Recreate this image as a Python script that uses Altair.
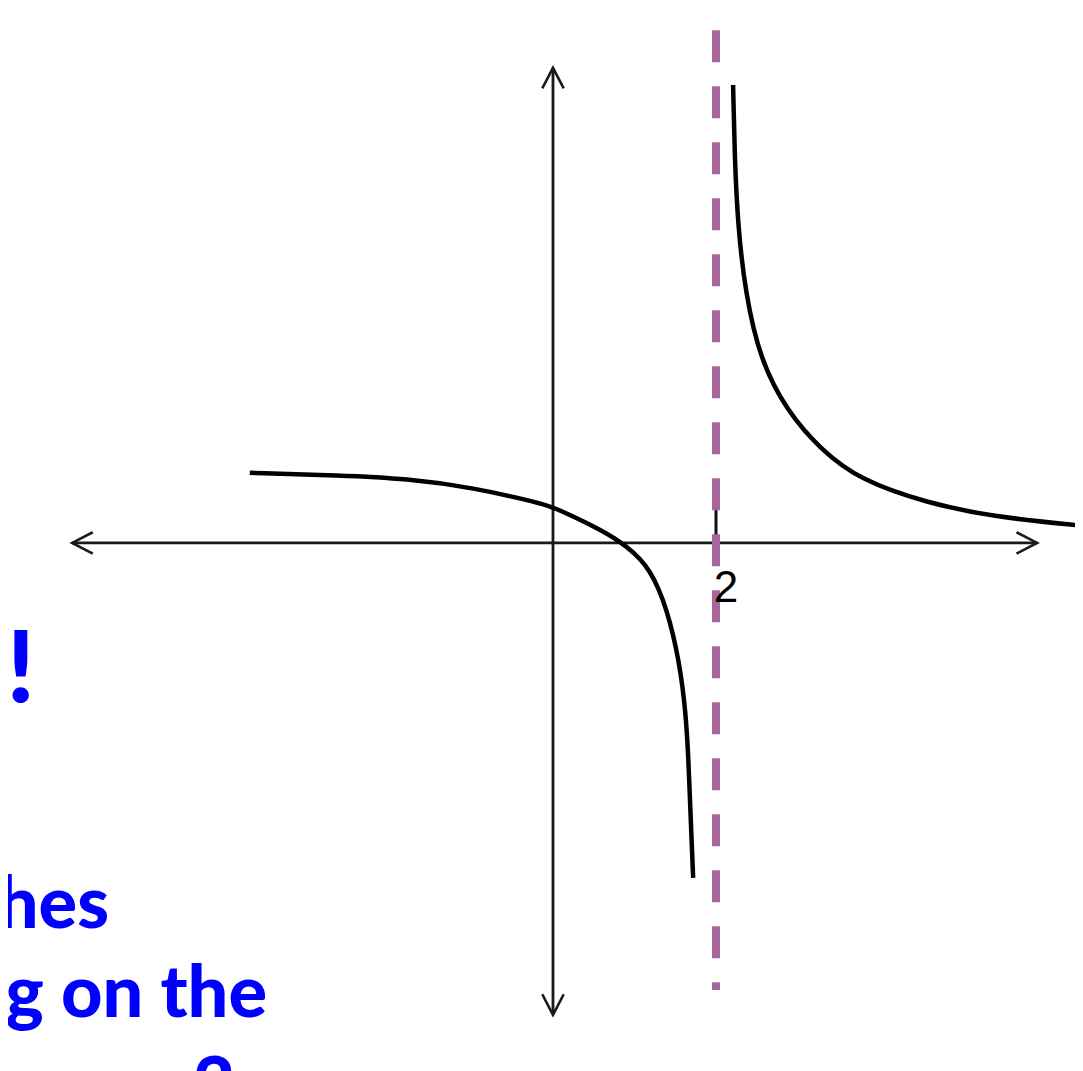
import altair as alt
import pandas as pd

# ---- data (graph units: 1 unit = one grid step) ----
left_x = [-3.72, -2.61, -1.79, -0.98, -0.16, 0.0, 0.45, 0.82, 1.15, 1.35, 1.52, 1.62, 1.66, 1.69, 1.72]
left_y = [0.86, 0.83, 0.79, 0.68, 0.49, 0.44, 0.23, 0.03, -0.25, -0.66, -1.28, -1.96, -2.58, -3.40, -4.11]
right_x = [2.21, 2.23, 2.27, 2.36, 2.54, 2.87, 3.28, 3.77, 4.59, 5.40, 6.50]
right_y = [5.62, 4.70, 3.88, 3.07, 2.25, 1.62, 1.15, 0.77, 0.49, 0.32, 0.21]
asymptote_x = [2.0]
tick_values = [2.0]
tick_labels = ["2"]
slide_lines = ["T!", "hes", "g on the", "= 2"]

# axis extents (graph units)
X_AXIS = (-5.90, 5.94)
Y_AXIS = (-5.79, 5.83)
ASYM_Y = (6.29, -5.485)

W, H = 1067, 1063
xs = alt.Scale(domain=[-6.687, 6.405], nice=False, zero=False)
ys = alt.Scale(domain=[-6.479, 6.564], nice=False, zero=False)

curve = pd.DataFrame(
    {"x": left_x + right_x,
     "y": left_y + right_y,
     "branch": ["left"] * len(left_x) + ["right"] * len(right_x)}
)

axes_df = pd.DataFrame({
    "x": [X_AXIS[0], 0.0], "x2": [X_AXIS[1], 0.0],
    "y": [0.0, Y_AXIS[0]], "y2": [0.0, Y_AXIS[1]],
})
axes = alt.Chart(axes_df).mark_rule(color="#1a1a1a", strokeWidth=2.8).encode(
    x=alt.X("x:Q", scale=xs, axis=None), x2="x2:Q",
    y=alt.Y("y:Q", scale=ys, axis=None), y2="y2:Q",
)

arrows_df = pd.DataFrame({
    "x": [X_AXIS[0], X_AXIS[1], 0.0, 0.0],
    "y": [0.0, 0.0, Y_AXIS[1], Y_AXIS[0]],
    "angle": [180, 0, 270, 90],
})
arrows = alt.Chart(arrows_df).mark_point(
    shape="M -1 -0.52 L 0 0 L -1 0.52", filled=False, color="#1a1a1a",
    strokeWidth=2.6, size=1700, opacity=1,
).encode(
    x=alt.X("x:Q", scale=xs, axis=None),
    y=alt.Y("y:Q", scale=ys, axis=None),
    angle=alt.Angle("angle:Q", scale=None),
)

tick_df = pd.DataFrame({"x": tick_values, "y": [0.0], "y2": [0.405], "label": tick_labels})
tick = alt.Chart(tick_df).mark_rule(color="#111111", strokeWidth=3).encode(
    x=alt.X("x:Q", scale=xs, axis=None),
    y=alt.Y("y:Q", scale=ys, axis=None), y2="y2:Q",
)
tick_label = alt.Chart(tick_df).mark_text(
    font="Liberation Sans", fontSize=44, color="#000000", align="center", baseline="alphabetic",
).encode(text="label:N", x=alt.value(718), y=alt.value(594))

lines = alt.Chart(curve).mark_line(
    color="#000000", strokeWidth=4.5, interpolate="basis", strokeCap="butt",
).encode(
    x=alt.X("x:Q", scale=xs, axis=None),
    y=alt.Y("y:Q", scale=ys, axis=None),
    detail="branch:N",
)

asym_df = pd.DataFrame({"x": asymptote_x, "y": [ASYM_Y[0]], "y2": [ASYM_Y[1]]})
asym = alt.Chart(asym_df).mark_rule(
    color="#a5679b", strokeWidth=8, strokeDash=[32, 24], strokeCap="butt",
).encode(
    x=alt.X("x:Q", scale=xs, axis=None),
    y=alt.Y("y:Q", scale=ys, axis=None), y2="y2:Q",
)

def slide_text(txt, xr, yb, size):
    return alt.Chart(pd.DataFrame({"t": [txt]})).mark_text(
        font="Lato", fontWeight=900, fontSize=size, color="#0000ff",
        align="right", baseline="alphabetic",
    ).encode(text="t:N", x=alt.value(xr), y=alt.value(yb))

texts = [
    slide_text(slide_lines[0], 27, 694, 100),
    slide_text(slide_lines[1], 101, 920, 72),
    slide_text(slide_lines[2], 259, 1009, 72),
    slide_text(slide_lines[3], 227, 1101, 72),
]

chart = alt.layer(axes, arrows, tick, lines, asym, tick_label, *texts).properties(
    width=W, height=H, padding=0, background="white",
    autosize=alt.AutoSizeParams(type="none"),
).configure_view(stroke=None)

chart.save("out.html", embed_options={"renderer": "svg", "actions": False})
